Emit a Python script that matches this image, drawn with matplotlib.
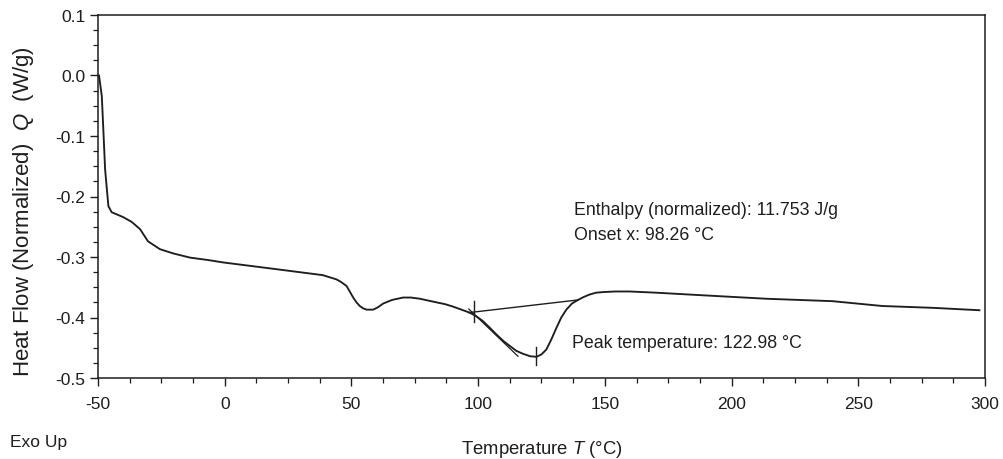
import matplotlib
matplotlib.use("Agg")
import matplotlib.pyplot as plt
from matplotlib.ticker import MultipleLocator

plt.rcParams['font.family'] = ['Liberation Sans', 'DejaVu Sans']
plt.rcParams['mathtext.fontset'] = 'custom'
plt.rcParams['mathtext.it'] = 'Liberation Sans:italic'
plt.rcParams['mathtext.rm'] = 'Liberation Sans'
plt.rcParams['axes.unicode_minus'] = False

# DSC curve
temp = [ -49.6, -48.5, -47.9, -47.2, -45.9, -44.6, -40.1, -36.7, -33.4, -30.3,
         -25.6, -20.4, -13.7, -6.6, -0.6, 12.6, 25.7, 38.7, 44.1, 45.8,
         48.1, 50.7, 52.0, 53.3, 54.7, 56.0, 58.6, 60.5, 62.5, 66.0,
         70.4, 73.5, 77.0, 80.3, 83.6, 87.0, 90.1, 93.4, 96.7, 99.3,
         101.9, 104.6, 107.2, 110.0, 112.5, 115.0, 117.7, 120.5, 123.0, 125.0,
         126.9, 128.8, 130.9, 132.8, 134.8, 137.0, 139.4, 141.7, 144.0, 146.5,
         149.3, 154.0, 159.8, 170.3, 187.4, 213.7, 239.8, 259.5, 279.3, 297.8 ]
heat = [ 0.000, -0.034, -0.089, -0.155, -0.216, -0.226, -0.234, -0.242, -0.254, -0.274,
         -0.287, -0.294, -0.301, -0.305, -0.309, -0.316, -0.323, -0.330, -0.337, -0.341,
         -0.348, -0.367, -0.375, -0.381, -0.385, -0.387, -0.387, -0.383, -0.377, -0.371,
         -0.367, -0.367, -0.369, -0.372, -0.375, -0.378, -0.382, -0.387, -0.392, -0.398,
         -0.406, -0.417, -0.428, -0.439, -0.447, -0.455, -0.460, -0.464, -0.465, -0.461,
         -0.453, -0.437, -0.417, -0.400, -0.387, -0.377, -0.371, -0.366, -0.362, -0.359,
         -0.358, -0.357, -0.357, -0.359, -0.363, -0.369, -0.373, -0.381, -0.384, -0.388 ]

# analysis results
enthalpy = 11.753
onset_T = 98.26
peak_T = 122.98
baseline_T = [ 96.2, 139.4 ]
baseline_Q = [ -0.392, -0.371 ]
tangent_T = [ 96.3, 115.7 ]
tangent_Q = [ -0.386, -0.464 ]
onset_tick_Q = [ -0.372, -0.407 ]
peak_tick_Q = [ -0.448, -0.478 ]

dark = "#1e1e1e"

fig = plt.figure( figsize = ( 10.04, 4.6 ), dpi = 100 )
ax = fig.add_axes( [ 98 / 1004, 81 / 460, 887 / 1004, 363 / 460 ] )

ax.plot( temp, heat, color = dark, lw = 1.35 )
ax.plot( baseline_T, baseline_Q, color = dark, lw = 1.0 )
ax.plot( tangent_T, tangent_Q, color = dark, lw = 0.9 )
ax.plot( [ onset_T, onset_T ], onset_tick_Q, color = dark, lw = 1.0 )
ax.plot( [ peak_T, peak_T ], peak_tick_Q, color = dark, lw = 1.0 )

ax.text( 137.7, -0.221, "Enthalpy (normalized): %.3f J/g" % enthalpy, fontsize = 12.8, va = "center", color = dark )
ax.text( 137.7, -0.263, "Onset x: %.2f °C" % onset_T, fontsize = 12.8, va = "center", color = dark )
ax.text( 136.9, -0.441, "Peak temperature: %.2f °C" % peak_T, fontsize = 12.8, va = "center", color = dark )

ax.set_xlim( -50, 300 )
ax.set_ylim( -0.5, 0.1 )
ax.xaxis.set_major_locator( MultipleLocator( 50 ) )
ax.xaxis.set_minor_locator( MultipleLocator( 12.5 ) )
ax.yaxis.set_major_locator( MultipleLocator( 0.1 ) )
ax.yaxis.set_minor_locator( MultipleLocator( 0.025 ) )
ax.yaxis.set_major_formatter( plt.FuncFormatter( lambda v, p: "%.1f" % v if abs( v ) > 1e-9 else "0.0" ) )

ax.tick_params( which = "major", direction = "out", length = 6, width = 1.0, color = dark, labelsize = 12.5, labelcolor = dark )
ax.tick_params( which = "minor", direction = "out", length = 3.5, width = 0.9, color = dark )
ax.tick_params( axis = "x", which = "major", pad = 7 )
ax.tick_params( axis = "y", which = "major", pad = 3 )
for s in ax.spines.values( ):
    s.set_color( dark )
    s.set_linewidth( 1.1 )

ax.set_xlabel( "Temperature $T$ (°C)", fontsize = 13.3, color = dark, va = "top" )
ax.xaxis.set_label_coords( 0.5, -( 439 - 379 ) / 363 )
ax.set_ylabel( "Heat Flow (Normalized)  $Q$  (W/g)", fontsize = 16, color = dark )
ax.yaxis.set_label_coords( -( 98 - 36 ) / 887, ( 379 - 212 ) / 363 )

fig.text( 10 / 1004, ( 460 - 443 ) / 460, "Exo Up", fontsize = 12.5, va = "center", color = dark )

fig.savefig( "out.png", dpi = 100 )
